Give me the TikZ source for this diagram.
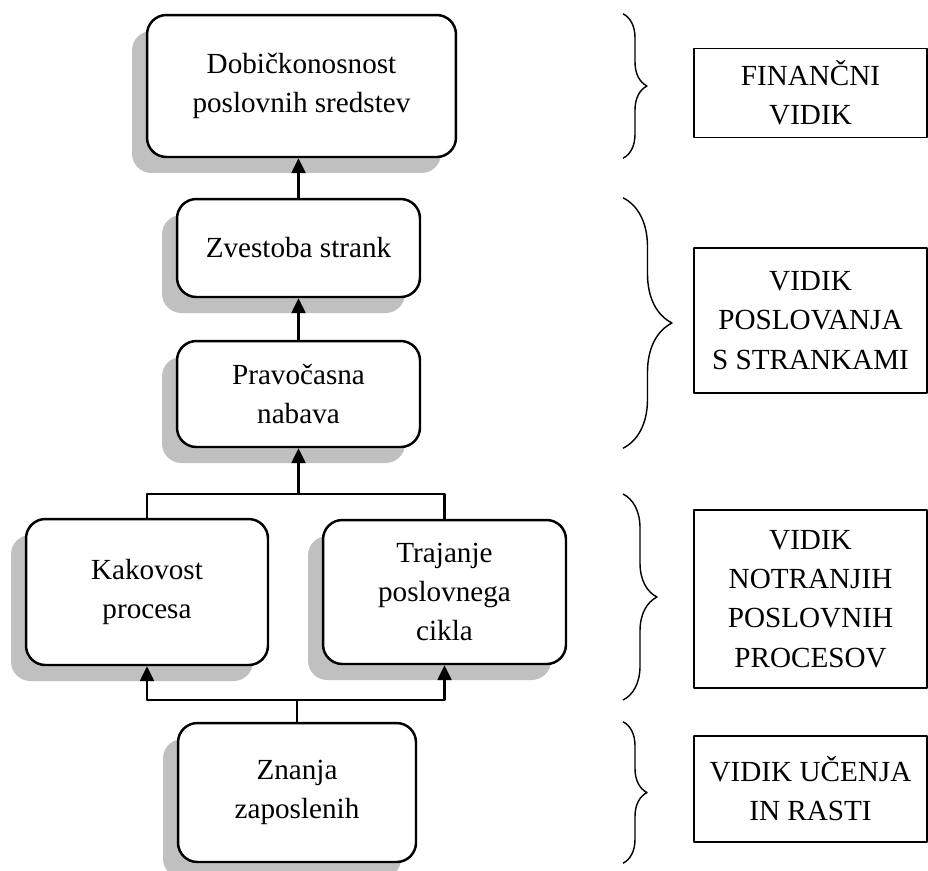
\documentclass[tikz,border=0pt]{standalone}
\usepackage{fontspec}
\setmainfont{Liberation Serif}
\usetikzlibrary{arrows.meta,shadows,decorations.pathreplacing}
\definecolor{senca}{HTML}{C0C0C0}

\begin{document}
\begin{tikzpicture}[x=0.02cm,y=-0.02cm,>={Triangle[length=8.5pt,width=8pt]},line join=round,
	font=\fontsize{16.6}{22.3}\selectfont]
	\tikzset{
		blok/.style={draw,line width=1.4pt,rounded corners=11pt,fill=white,align=center,
			drop shadow={shadow xshift=-0.3cm,shadow yshift=-0.32cm,fill=senca,opacity=1}},
		vidik/.style={draw,line width=1.1pt,align=center,minimum width=4.66cm},
		zavit/.style={decorate,decoration={brace,amplitude=#1},line width=0.8pt},
		vez/.style={line width=1.2pt}
	}
	\useasboundingbox (0,0) rectangle (928,870);
	% levi stolpec
	\node[blok,minimum width=6.18cm,minimum height=2.84cm] (dobicek) at (301.5,86) {Dobičkonosnost\\poslovnih sredstev};
	\node[blok,minimum width=4.86cm,minimum height=1.96cm] (zvestoba) at (298.5,248) {Zvestoba strank};
	\node[blok,minimum width=4.86cm,minimum height=2.12cm] (pravocasna) at (298.5,394) {Pravočasna\\nabava};
	\node[blok,minimum width=4.84cm,minimum height=2.92cm] (kakovost) at (147,592) {Kakovost\\procesa};
	\node[blok,minimum width=4.86cm,minimum height=2.88cm] (trajanje) at (444.5,592) {Trajanje\\poslovnega\\cikla};
	\node[blok,minimum width=4.76cm,minimum height=2.78cm] (znanja) at (297,792.5) {Znanja\\zaposlenih};
	% povezave
	\coordinate (zgoraj) at (pravocasna.south |- 0,494);
	\coordinate (spodaj) at (znanja.north |- 0,700);
	\draw[vez,->] (zvestoba.north) -- (zvestoba.north |- dobicek.south);
	\draw[vez,->] (pravocasna.north) -- (zvestoba.south);
	\draw[vez] (kakovost.north) |- (zgoraj) -| (trajanje.north);
	\draw[vez,->] (zgoraj) -- (pravocasna.south);
	\draw[vez] (znanja.north) -- (spodaj);
	\draw[vez,<->] (kakovost.south) |- (spodaj) -| (trajanje.south);
	% desni stolpec
	\node[vidik,minimum height=1.78cm] (financni) at (810.5,93) {FINANČNI\\VIDIK};
	\node[vidik,minimum height=2.9cm] (stranke) at (810.5,320.5) {VIDIK\\POSLOVANJA\\S STRANKAMI};
	\node[vidik,minimum height=3.56cm] (procesi) at (810.5,599) {VIDIK\\NOTRANJIH\\POSLOVNIH\\PROCESOV};
	\node[vidik,minimum height=2.12cm] (ucenje) at (810.5,789) {VIDIK UČENJA\\IN RASTI};
	% zavite oklepaje
	\draw[zavit=0.48cm] (623,0 |- dobicek.north) -- (623,0 |- dobicek.south);
	\draw[zavit=0.98cm] (623,0 |- zvestoba.north) -- (623,0 |- pravocasna.south);
	\draw[zavit=0.68cm] (623,0 |- zgoraj) -- (623,0 |- spodaj);
	\draw[zavit=0.48cm] (623,0 |- znanja.north) -- (623,0 |- znanja.south);
\end{tikzpicture}
\end{document}
